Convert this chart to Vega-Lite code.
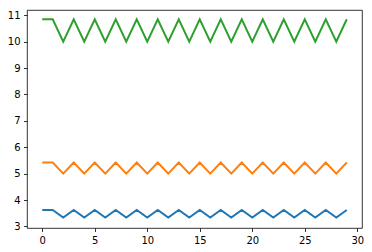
{
  "$schema": "https://vega.github.io/schema/vega-lite/v6.json",
  "width": 335,
  "height": 218,
  "autosize": {"type": "none"},
  "padding": {"left": 27, "top": 10, "right": 10, "bottom": 24},
  "background": "white",
  "config": {
    "view": {"stroke": "black", "strokeWidth": 0.8},
    "axis": {
      "domain": false,
      "grid": false,
      "tickColor": "black",
      "tickWidth": 0.8,
      "tickSize": 3.5,
      "labelPadding": 3.5,
      "labelFont": "DejaVu Sans",
      "labelFontSize": 10,
      "labelColor": "black",
      "title": null
    }
  },
  "data": {
    "values": [
      {"x": 0, "a": 3.62, "b": 5.42, "c": 10.85},
      {"x": 1, "a": 3.62, "b": 5.42, "c": 10.85},
      {"x": 2, "a": 3.34, "b": 5.0, "c": 10.0},
      {"x": 3, "a": 3.62, "b": 5.42, "c": 10.85},
      {"x": 4, "a": 3.34, "b": 5.0, "c": 10.0},
      {"x": 5, "a": 3.62, "b": 5.42, "c": 10.85},
      {"x": 6, "a": 3.34, "b": 5.0, "c": 10.0},
      {"x": 7, "a": 3.62, "b": 5.42, "c": 10.85},
      {"x": 8, "a": 3.34, "b": 5.0, "c": 10.0},
      {"x": 9, "a": 3.62, "b": 5.42, "c": 10.85},
      {"x": 10, "a": 3.34, "b": 5.0, "c": 10.0},
      {"x": 11, "a": 3.62, "b": 5.42, "c": 10.85},
      {"x": 12, "a": 3.34, "b": 5.0, "c": 10.0},
      {"x": 13, "a": 3.62, "b": 5.42, "c": 10.85},
      {"x": 14, "a": 3.34, "b": 5.0, "c": 10.0},
      {"x": 15, "a": 3.62, "b": 5.42, "c": 10.85},
      {"x": 16, "a": 3.34, "b": 5.0, "c": 10.0},
      {"x": 17, "a": 3.62, "b": 5.42, "c": 10.85},
      {"x": 18, "a": 3.34, "b": 5.0, "c": 10.0},
      {"x": 19, "a": 3.62, "b": 5.42, "c": 10.85},
      {"x": 20, "a": 3.34, "b": 5.0, "c": 10.0},
      {"x": 21, "a": 3.62, "b": 5.42, "c": 10.85},
      {"x": 22, "a": 3.34, "b": 5.0, "c": 10.0},
      {"x": 23, "a": 3.62, "b": 5.42, "c": 10.85},
      {"x": 24, "a": 3.34, "b": 5.0, "c": 10.0},
      {"x": 25, "a": 3.62, "b": 5.42, "c": 10.85},
      {"x": 26, "a": 3.34, "b": 5.0, "c": 10.0},
      {"x": 27, "a": 3.62, "b": 5.42, "c": 10.85},
      {"x": 28, "a": 3.34, "b": 5.0, "c": 10.0},
      {"x": 29, "a": 3.62, "b": 5.42, "c": 10.85}
    ]
  },
  "transform": [{"fold": ["a", "b", "c"], "as": ["series", "v"]}],
  "mark": {"type": "line", "strokeWidth": 2, "clip": true},
  "encoding": {
    "x": {
      "field": "x", "type": "quantitative",
      "scale": {"domain": [-1.45, 30.45], "nice": false, "zero": false},
      "axis": {"values": [0, 5, 10, 15, 20, 25, 30]}
    },
    "y": {
      "field": "v", "type": "quantitative",
      "scale": {"domain": [2.94, 11.2], "nice": false, "zero": false},
      "axis": {"values": [3, 4, 5, 6, 7, 8, 9, 10, 11]}
    },
    "color": {
      "field": "series", "type": "nominal",
      "scale": {"domain": ["a", "b", "c"], "range": ["#1f77b4", "#ff7f0e", "#2ca02c"]},
      "legend": null
    }
  }
}
